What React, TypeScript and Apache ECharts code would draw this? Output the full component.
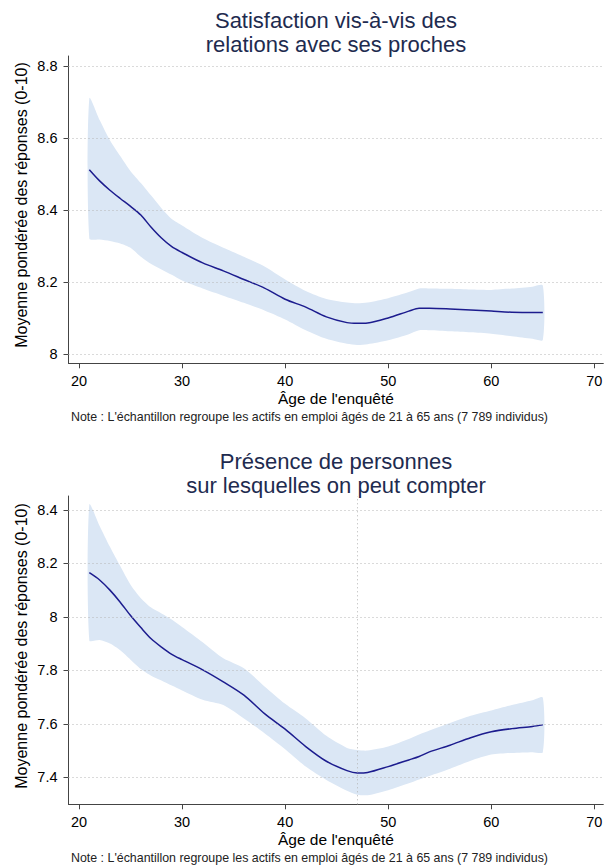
import React, { useEffect, useRef } from "react";
import * as echarts from "echarts";

// ---------- data ----------
const AGES = [21, 22, 23, 24, 25, 26, 27, 28, 29, 30, 32, 34, 36, 38, 40, 42, 44, 46, 47, 48, 50, 52, 53, 54, 56, 58, 60, 62, 64, 65];

const SAT_MEAN = [8.512, 8.481, 8.455, 8.432, 8.41, 8.386, 8.352, 8.322, 8.298, 8.282, 8.253, 8.231, 8.207, 8.183, 8.152, 8.13, 8.103, 8.087, 8.085, 8.086, 8.1, 8.119, 8.127, 8.127, 8.125, 8.122, 8.119, 8.116, 8.115, 8.115];
const SAT_HI = [8.71, 8.65, 8.594, 8.55, 8.508, 8.475, 8.44, 8.405, 8.375, 8.357, 8.322, 8.295, 8.27, 8.243, 8.207, 8.175, 8.153, 8.143, 8.141, 8.143, 8.155, 8.172, 8.182, 8.182, 8.181, 8.179, 8.178, 8.182, 8.187, 8.19];
const SAT_LO = [8.321, 8.318, 8.314, 8.307, 8.295, 8.27, 8.25, 8.235, 8.22, 8.204, 8.182, 8.162, 8.142, 8.121, 8.096, 8.066, 8.042, 8.028, 8.025, 8.027, 8.038, 8.055, 8.066, 8.066, 8.063, 8.06, 8.056, 8.049, 8.042, 8.039];

const PRES_MEAN = [8.165, 8.138, 8.1, 8.055, 8.005, 7.96, 7.918, 7.887, 7.86, 7.84, 7.802, 7.757, 7.707, 7.638, 7.58, 7.515, 7.46, 7.425, 7.416, 7.418, 7.44, 7.465, 7.478, 7.495, 7.52, 7.548, 7.57, 7.582, 7.59, 7.596];
const PRES_HI = [8.42, 8.34, 8.262, 8.19, 8.12, 8.07, 8.035, 8.013, 7.99, 7.962, 7.905, 7.845, 7.808, 7.74, 7.675, 7.62, 7.555, 7.51, 7.502, 7.5, 7.515, 7.543, 7.56, 7.575, 7.603, 7.63, 7.65, 7.67, 7.688, 7.698];
const PRES_LO = [7.912, 7.913, 7.9, 7.875, 7.84, 7.805, 7.78, 7.762, 7.743, 7.725, 7.69, 7.67, 7.62, 7.565, 7.505, 7.44, 7.39, 7.35, 7.335, 7.333, 7.352, 7.378, 7.392, 7.405, 7.432, 7.462, 7.485, 7.491, 7.494, 7.494];

const X_TICKS = [20, 30, 40, 50, 60, 70];
const SAT_Y_TICKS = [8, 8.2, 8.4, 8.6, 8.8];
const PRES_Y_TICKS = [7.4, 7.6, 7.8, 8, 8.2, 8.4];
const REF_AGE = [47];

const TITLE_1 = "Satisfaction vis-à-vis des\nrelations avec ses proches";
const TITLE_2 = "Présence de personnes\nsur lesquelles on peut compter";
const X_TITLE = "Âge de l'enquêté";
const Y_TITLE = "Moyenne pondérée des réponses (0-10)";
const NOTE = "Note : L'échantillon regroupe les actifs en emploi âgés de 21 à 65 ans (7 789 individus)";

// ---------- styles ----------
const FONT = '"Liberation Sans", Arial, Helvetica, sans-serif';
const LINE_COLOR = "#1c1c8e";
const BAND_COLOR = "#dbe7f5";
const AXIS_COLOR = "#444444";
const GRID_COLOR = "#b5b5b5";
const TITLE_COLOR = "#1e2b4f";

const pairs = (ys: number[]) => AGES.map((a, i) => [a, ys[i]]);

export default function App() {
  const ref = useRef<HTMLDivElement>(null);

  useEffect(() => {
    if (!ref.current) return;
    const chart = echarts.init(ref.current, null, { renderer: "svg" });

    const grids = [
      { left: 68.5, right: 7.7, top: 56, height: 307.3 },
      { left: 68.5, right: 7.7, top: 496, height: 308.3 },
    ];
    const yRanges = [
      { min: 7.974, max: 8.828, ticks: SAT_Y_TICKS },
      { min: 7.299, max: 8.452, ticks: PRES_Y_TICKS },
    ];

    const xAxis = [0, 1].map((i) => ({
      type: "value",
      gridIndex: i,
      min: 18.98,
      max: 70.87,
      axisLine: { show: true, lineStyle: { color: AXIS_COLOR, width: 1 } },
      axisTick: { show: true, length: 5, customValues: X_TICKS, lineStyle: { color: AXIS_COLOR } },
      axisLabel: { customValues: X_TICKS, fontSize: 14.5, color: "#000", margin: 10, fontFamily: FONT },
      splitLine: { show: false },
      name: X_TITLE,
      nameLocation: "middle",
      nameGap: 27,
      nameTextStyle: { fontSize: 15.5, color: "#000", fontFamily: FONT },
    }));

    const yAxis = [0, 1].map((i) => ({
      type: "value",
      gridIndex: i,
      min: yRanges[i].min,
      max: yRanges[i].max,
      axisLine: { show: true, lineStyle: { color: AXIS_COLOR, width: 1 } },
      axisTick: { show: true, length: 5, customValues: yRanges[i].ticks, lineStyle: { color: AXIS_COLOR } },
      axisLabel: { customValues: yRanges[i].ticks, fontSize: 14.5, color: "#000", margin: 11, fontFamily: FONT },
      splitLine: { show: false },
    }));

    const bandSeries = (i: number, hi: number[], lo: number[]) => ({
      type: "custom",
      xAxisIndex: i,
      yAxisIndex: i,
      z: 2,
      silent: true,
      data: [0],
      renderItem: (_p: any, api: any) => {
        const up = AGES.map((a, k) => api.coord([a, hi[k]]));
        const down = AGES.map((a, k) => api.coord([a, lo[k]])).reverse();
        return {
          type: "polygon",
          shape: { points: up.concat(down), smooth: 0.25 },
          style: { fill: BAND_COLOR },
        };
      },
    });

    const gridLineSeries = (i: number, ticks: number[], vlines: number[]) => ({
      type: "line",
      xAxisIndex: i,
      yAxisIndex: i,
      z: 1,
      silent: true,
      data: [],
      markLine: {
        silent: true,
        symbol: ["none", "none"],
        label: { show: false },
        lineStyle: { color: GRID_COLOR, type: [1, 3], width: 1 },
        data: ticks.map((t) => ({ yAxis: t })).concat(vlines.map((v) => ({ xAxis: v })) as any),
      },
    });

    const meanSeries = (i: number, ys: number[]) => ({
      type: "line",
      xAxisIndex: i,
      yAxisIndex: i,
      z: 3,
      silent: true,
      data: pairs(ys),
      symbol: "none",
      smooth: 0.3,
      lineStyle: { color: LINE_COLOR, width: 1.5 },
    });

    const titleStyle = {
      fontSize: 22,
      fontWeight: "normal",
      color: TITLE_COLOR,
      lineHeight: 24,
      fontFamily: FONT,
    };

    const yTitle = (cy: number) => ({
      type: "text",
      x: 21.7,
      y: cy,
      rotation: Math.PI / 2,
      style: {
        text: Y_TITLE,
        fontSize: 16,
        fill: "#000",
        fontFamily: FONT,
        align: "center",
        verticalAlign: "middle",
      },
    });

    chart.setOption({
      animation: false,
      textStyle: { fontFamily: FONT },
      grid: grids,
      xAxis,
      yAxis,
      title: [
        { text: TITLE_1, left: 336, top: 8, padding: 0, textAlign: "center", textStyle: titleStyle },
        { text: TITLE_2, left: 336, top: 449, padding: 0, textAlign: "center", textStyle: titleStyle },
      ],
      graphic: [
        yTitle(205),
        yTitle(646),
        {
          type: "text",
          left: 71,
          top: 411,
          style: { text: NOTE, fontSize: 12.4, fill: "#222", fontFamily: FONT },
        },
        {
          type: "text",
          left: 71,
          top: 852,
          style: { text: NOTE, fontSize: 12.4, fill: "#222", fontFamily: FONT },
        },
      ],
      series: [
        gridLineSeries(0, SAT_Y_TICKS, []),
        bandSeries(0, SAT_HI, SAT_LO),
        meanSeries(0, SAT_MEAN),
        gridLineSeries(1, PRES_Y_TICKS, REF_AGE),
        bandSeries(1, PRES_HI, PRES_LO),
        meanSeries(1, PRES_MEAN),
      ],
    });

    return () => chart.dispose();
  }, []);

  return (
    <div
      ref={ref}
      style={{ position: "fixed", left: 0, top: 0, width: 611, height: 868, background: "#fff" }}
    />
  );
}
